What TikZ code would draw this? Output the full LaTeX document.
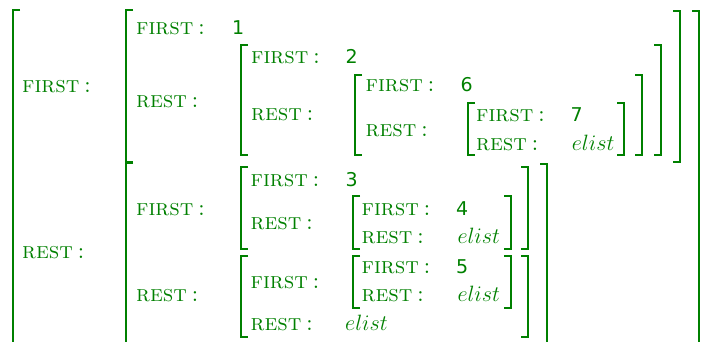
\documentclass[tikz,border=0pt]{standalone}
\usepackage{graphicx}
\usepackage{fontspec}
\newfontfamily\avmdigits{DejaVu Sans}
\definecolor{avmgreen}{RGB}{0,128,0}
\newcommand{\avmlabfont}{\fontsize{23}{25}\selectfont\scshape\addfontfeatures{FakeBold=0.5}}
\newcommand{\avmvalfont}{\fontsize{19}{21}\selectfont\avmdigits}
\newcommand{\avmelfont}{\fontsize{20.74}{24}\selectfont}
\newcommand{\avmel}{\scalebox{1.07}{$elist$}}
\newcommand{\avmfirst}{first\hspace{4.5pt}:}
\newcommand{\avmrest}{rest\hspace{4.5pt}:}
\newcommand{\avmL}[4][2pt]{\draw[avmbr,line width=#1] (#2+7,#3) -- (#2,#3) -- (#2,#4) -- (#2+7,#4);}
\newcommand{\avmR}[4][2pt]{\draw[avmbr,line width=#1] (#2-7,#3) -- (#2,#3) -- (#2,#4) -- (#2-7,#4);}
\begin{document}
\begin{tikzpicture}[x=1pt,y=-1pt,
  avmbr/.style={draw=avmgreen,line cap=butt,line join=miter},
  lab/.style={font=\avmlabfont,text=avmgreen,anchor=base west,inner sep=0pt},
  val/.style={font=\avmvalfont,text=avmgreen,anchor=base west,inner sep=0pt},
  ev/.style={font=\avmelfont,text=avmgreen,anchor=base west,inner sep=0pt}]
\useasboundingbox (0,0) rectangle (702,341);
\clip (0,0) rectangle (702,341);
% outer
\avmL{13}{10}{360}
\avmR{699}{11}{360}
\node[lab] (of) at (22,92) {\avmfirst};
\node[lab] (or) at (22,258) {\avmrest};
% X (value of outer FIRST)
\avmL{126}{10}{162}
\avmR{680}{11}{162}
\node[lab] (xf) at (136,34.3) {\avmfirst};
\node[val] (xfv) at (232,34.3) {1};
\node[lab] (xr) at (136,107.3) {\avmrest};
\avmL{241}{45}{155}
\avmR{661}{45}{155}
\node[lab] (x2f) at (251,63.3) {\avmfirst};
\node[val] (x2fv) at (345.5,63.3) {2};
\node[lab] (x2r) at (251,120.7) {\avmrest};
\avmL{355}{75}{155}
\avmR{642}{75}{155}
\node[lab] (x3f) at (365.5,91.7) {\avmfirst};
\node[val] (x3fv) at (460.5,91.7) {6};
\node[lab] (x3r) at (365.5,136.7) {\avmrest};
\avmL{468}{103}{155}
\avmR{624}{103}{155}
\node[lab] (x4f) at (476,121.7) {\avmfirst};
\node[val] (x4fv) at (570.5,121.7) {7};
\node[lab] (x4r) at (476,150) {\avmrest};
\node[ev] (x4rv) at (571.7,150) {\avmel};
% Y (value of outer REST)
\avmL{126}{163}{360}
\avmR{547}{164}{360}
\node[lab] (yf) at (136,215) {\avmfirst};
\node[lab] (yr) at (136,301.7) {\avmrest};
\avmL{241}{167}{249}
\avmR{528}{167}{249}
\node[lab] (yaf) at (250.5,186) {\avmfirst};
\node[val] (yafv) at (345.5,186) {3};
\node[lab] (yar) at (250.5,229) {\avmrest};
\avmL{353}{196}{249}
\avmR{511}{196}{249}
\node[lab] (ybf) at (361.5,215) {\avmfirst};
\node[val] (ybfv) at (456,215) {4};
\node[lab] (ybr) at (361.5,243.3) {\avmrest};
\node[ev] (ybrv) at (457.3,243.3) {\avmel};
\avmL{241}{256}{337}
\avmR{528}{256}{337}
\node[lab] (ycf) at (250.5,288.3) {\avmfirst};
\node[lab] (ycr) at (250.5,330.7) {\avmrest};
\node[ev] (ycrv) at (345,330.7) {\avmel};
\avmL{353}{256}{308}
\avmR{511}{256}{308}
\node[lab] (ydf) at (361.5,273.3) {\avmfirst};
\node[val] (ydfv) at (456,273.3) {5};
\node[lab] (ydr) at (361.5,301.7) {\avmrest};
\node[ev] (ydrv) at (457.3,301.7) {\avmel};
\end{tikzpicture}
\end{document}
